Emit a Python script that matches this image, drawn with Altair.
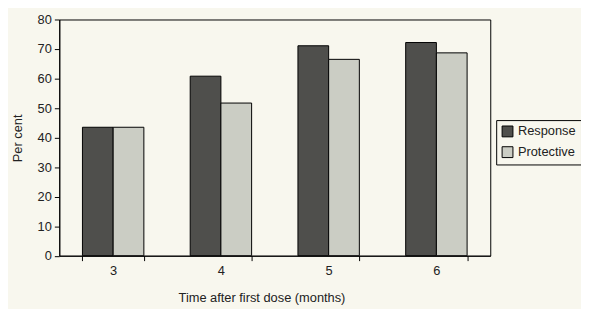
import altair as alt
import pandas as pd

months = ["3", "4", "5", "6"]
series = ["Response", "Protective"]
response = [43.5, 60.8, 71.1, 72.2]
protective = [43.5, 51.7, 66.5, 68.7]

rows = []
for m, r, p in zip(months, response, protective):
    rows.append({"month": m, "series": "Response", "value": r})
    rows.append({"month": m, "series": "Protective", "value": p})
df = pd.DataFrame(rows)

BG = "#f8f7ee"
FONT = "Liberation Sans"

chart = alt.Chart(df).mark_bar(stroke="black", strokeWidth=1).encode(
    x=alt.X(
        "month:N",
        sort=months,
        scale=alt.Scale(paddingInner=0.43, paddingOuter=0.215),
        axis=alt.Axis(
            title="Time after first dose (months)",
            labelAngle=0,
            tickBand="extent",
            tickSize=5,
            labelPadding=4,
            domainColor="black",
            tickColor="black",
            labelColor="#222",
            labelFont=FONT,
            labelFontSize=13,
            titleFont=FONT,
            titleFontSize=13,
            titleFontWeight="normal",
            titleColor="#222",
            titleX=205,
            titleY=42,
            titleBaseline="middle",
            titleAlign="center",
        ),
    ),
    xOffset=alt.XOffset("series:N", sort=series),
    y=alt.Y(
        "value:Q",
        scale=alt.Scale(domain=[0, 80], nice=False),
        axis=alt.Axis(
            title="Per cent",
            values=list(range(0, 81, 10)),
            grid=False,
            tickSize=5,
            labelPadding=3,
            domainColor="black",
            tickColor="black",
            labelColor="#222",
            labelFont=FONT,
            labelFontSize=13,
            titleFont=FONT,
            titleFontSize=13,
            titleFontWeight="normal",
            titleColor="#222",
            titleX=-42,
            titleY=120,
            titleBaseline="middle",
            titleAlign="center",
        ),
    ),
    color=alt.Color(
        "series:N",
        sort=series,
        scale=alt.Scale(domain=series, range=["#4f4f4c", "#cbcdc4"]),
        legend=alt.Legend(
            title=None,
            orient="none",
            legendX=443,
            legendY=102,
            symbolType="square",
            symbolSize=121,
            symbolStrokeColor="black",
            symbolStrokeWidth=1,
            symbolOpacity=1,
            labelFont=FONT,
            labelFontSize=13,
            labelColor="#222",
            labelOffset=4,
            strokeColor="black",
            padding=5,
            rowPadding=6,
            fillColor=BG,
        ),
    ),
).properties(
    width=437,
    height=239.5,
    background=BG,
    padding={"left": 52, "top": 9.5, "right": 92, "bottom": 60},
    autosize="none",
).configure_view(stroke="black", strokeWidth=1)

chart.save("out.html", embed_options={"renderer": "svg", "actions": False})
